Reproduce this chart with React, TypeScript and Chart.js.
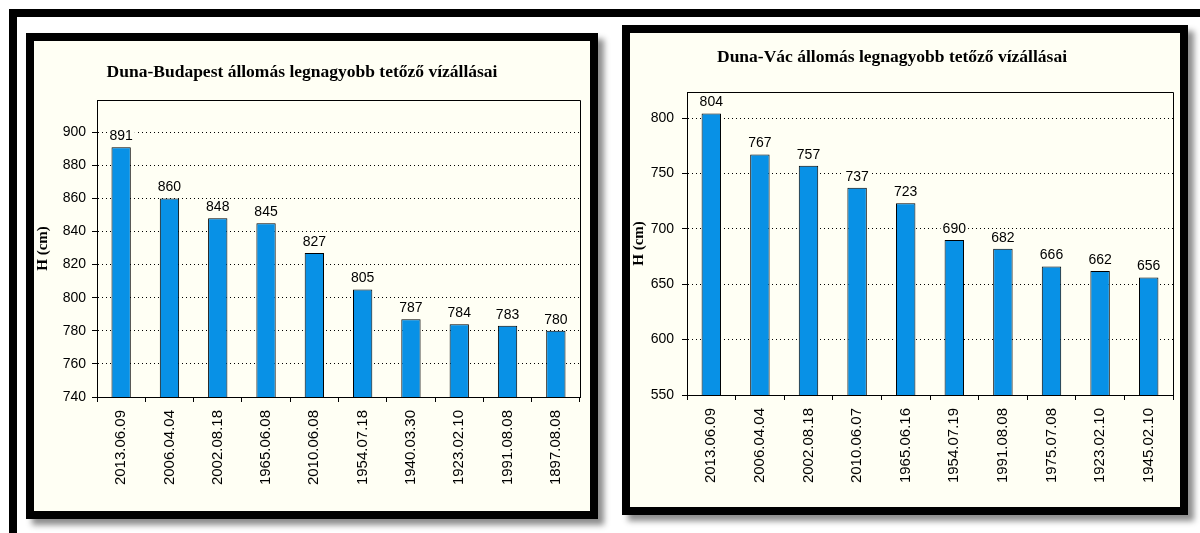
import React, { useEffect, useRef } from 'react';
import { Chart, registerables } from 'chart.js';

Chart.register(...registerables);

// ---------- data ----------
const budapestDates = ['2013.06.09', '2006.04.04', '2002.08.18', '1965.06.08', '2010.06.08', '1954.07.18', '1940.03.30', '1923.02.10', '1991.08.08', '1897.08.08'];
const budapestLevels = [891, 860, 848, 845, 827, 805, 787, 784, 783, 780];
const vacDates = ['2013.06.09', '2006.04.04', '2002.08.18', '2010.06.07', '1965.06.16', '1954.07.19', '1991.08.08', '1975.07.08', '1923.02.10', '1945.02.10'];
const vacLevels = [804, 767, 757, 737, 723, 690, 682, 666, 662, 656];
const budapestTitle = 'Duna-Budapest állomás legnagyobb tetőző vízállásai';
const vacTitle = 'Duna-Vác állomás legnagyobb tetőző vízállásai';
const yAxisTitle = 'H (cm)';
const budapestRange = [740, 919.5, 20];
const vacRange = [550, 823.5, 50];

// ---------- styles ----------
const BAR = '#0891E6';
const CREAM = '#FFFFF4';
const SANS = "'Liberation Sans', Arial, sans-serif";
const SERIF = "'Liberation Serif', 'Times New Roman', serif";

type Box = { left: number; top: number; right: number; bottom: number };

type PanelProps = {
  labels: string[];
  values: number[];
  title: string;
  range: number[];
  width: number;
  height: number;
  plot: Box;
  titleAt: [number, number];
  yPad: number;
};

function BarPanel(p: PanelProps) {
  const ref = useRef<HTMLCanvasElement | null>(null);
  useEffect(() => {
    const canvas = ref.current;
    if (!canvas) return;

    const decor = {
      id: 'decor',
      afterDatasetsDraw(chart: any) {
        const ctx = chart.ctx;
        const a = chart.chartArea;
        ctx.save();
        ctx.strokeStyle = '#000';
        ctx.lineWidth = 1;
        ctx.beginPath();
        ctx.moveTo(Math.round(a.left) + 0.5, Math.round(a.top) + 0.5);
        ctx.lineTo(Math.round(a.right) + 0.5, Math.round(a.top) + 0.5);
        ctx.lineTo(Math.round(a.right) + 0.5, Math.round(a.bottom) + 0.5);
        ctx.stroke();
        const meta = chart.getDatasetMeta(0);
        ctx.font = `14px ${SANS}`;
        ctx.textAlign = 'center';
        ctx.textBaseline = 'bottom';
        meta.data.forEach((bar: any, i: number) => {
          const txt = String(chart.data.datasets[0].data[i]);
          const w = ctx.measureText(txt).width;
          const y = bar.y - 4;
          ctx.fillStyle = CREAM;
          ctx.fillRect(bar.x - w / 2 - 2, y - 14, w + 4, 15);
          ctx.fillStyle = '#000';
          ctx.fillText(txt, bar.x, y);
        });
        ctx.restore();
      },
      afterDraw(chart: any) {
        const ctx = chart.ctx;
        ctx.save();
        ctx.font = `bold 17.5px ${SERIF}`;
        ctx.fillStyle = '#000';
        ctx.textAlign = 'center';
        ctx.textBaseline = 'middle';
        ctx.fillText(p.title, p.titleAt[0], p.titleAt[1]);
        ctx.restore();
      },
    };

    const chart = new Chart(canvas, {
      type: 'bar',
      data: {
        labels: p.labels,
        datasets: [
          {
            data: p.values,
            backgroundColor: BAR,
            borderColor: '#000',
            borderWidth: 1,
            barPercentage: 0.4,
            categoryPercentage: 1,
          },
        ],
      },
      options: {
        responsive: false,
        maintainAspectRatio: false,
        animation: false,
        layout: {
          padding: { left: 0, top: p.plot.top, right: p.width - p.plot.right, bottom: 0 },
        },
        plugins: {
          legend: { display: false },
          tooltip: { enabled: false },
          title: { display: false },
        },
        scales: {
          x: {
            offset: true,
            grid: { display: true, drawOnChartArea: false, drawTicks: true, tickLength: 5, color: '#000', offset: true },
            border: { display: true, color: '#000', width: 1 },
            ticks: {
              color: '#000',
              font: { family: SANS, size: 15 },
              minRotation: 90,
              maxRotation: 90,
              autoSkip: false,
              padding: 8,
            },
            afterFit: (s: any) => {
              s.height = p.height - p.plot.bottom;
            },
          },
          y: {
            min: p.range[0],
            max: p.range[1],
            ticks: {
              stepSize: p.range[2],
              includeBounds: false,
              color: '#000',
              font: { family: SANS, size: 14 },
              padding: p.yPad,
            },
            grid: { color: '#000', lineWidth: 1, drawTicks: true, tickLength: 5, tickBorderDash: [] },
            border: { display: true, color: '#000', width: 1, dash: [1, 3] },
            title: {
              display: true,
              text: yAxisTitle,
              color: '#000',
              font: { family: SERIF, size: 15, weight: 'bold' },
              padding: 0,
            },
            afterFit: (s: any) => {
              s.width = p.plot.left;
            },
          },
        },
      } as any,
      plugins: [decor],
    });
    return () => chart.destroy();
  }, []);
  return <canvas ref={ref} width={p.width} height={p.height} style={{ display: 'block', width: p.width, height: p.height }} />;
}

export default function App() {
  return (
    <div style={{ position: 'fixed', left: 0, top: 0, width: 1200, height: 533, background: '#fff', overflow: 'hidden' }}>
      <div
        style={{
          position: 'absolute', left: 9, top: 9, width: 1191, height: 524,
          borderTop: '8px solid #000', borderLeft: '8px solid #000', boxSizing: 'border-box',
        }}
      />
      <div
        style={{
          position: 'absolute', left: 26, top: 33, width: 572, height: 486, border: '8px solid #000',
          boxSizing: 'border-box', background: CREAM, boxShadow: '6px 6px 6px rgba(0,0,0,0.45)',
        }}
      >
        <BarPanel
          labels={budapestDates}
          values={budapestLevels}
          title={budapestTitle}
          range={budapestRange}
          width={556}
          height={470}
          plot={{ left: 63, top: 59, right: 546, bottom: 356 }}
          titleAt={[268, 31]}
          yPad={6}
        />
      </div>
      <div
        style={{
          position: 'absolute', left: 622, top: 25, width: 566, height: 490, border: '8px solid #000',
          boxSizing: 'border-box', background: CREAM, boxShadow: '6px 6px 6px rgba(0,0,0,0.45)',
        }}
      >
        <BarPanel
          labels={vacDates}
          values={vacLevels}
          title={vacTitle}
          range={vacRange}
          width={550}
          height={474}
          plot={{ left: 57, top: 59, right: 543, bottom: 362 }}
          titleAt={[262, 24]}
          yPad={8}
        />
      </div>
    </div>
  );
}
